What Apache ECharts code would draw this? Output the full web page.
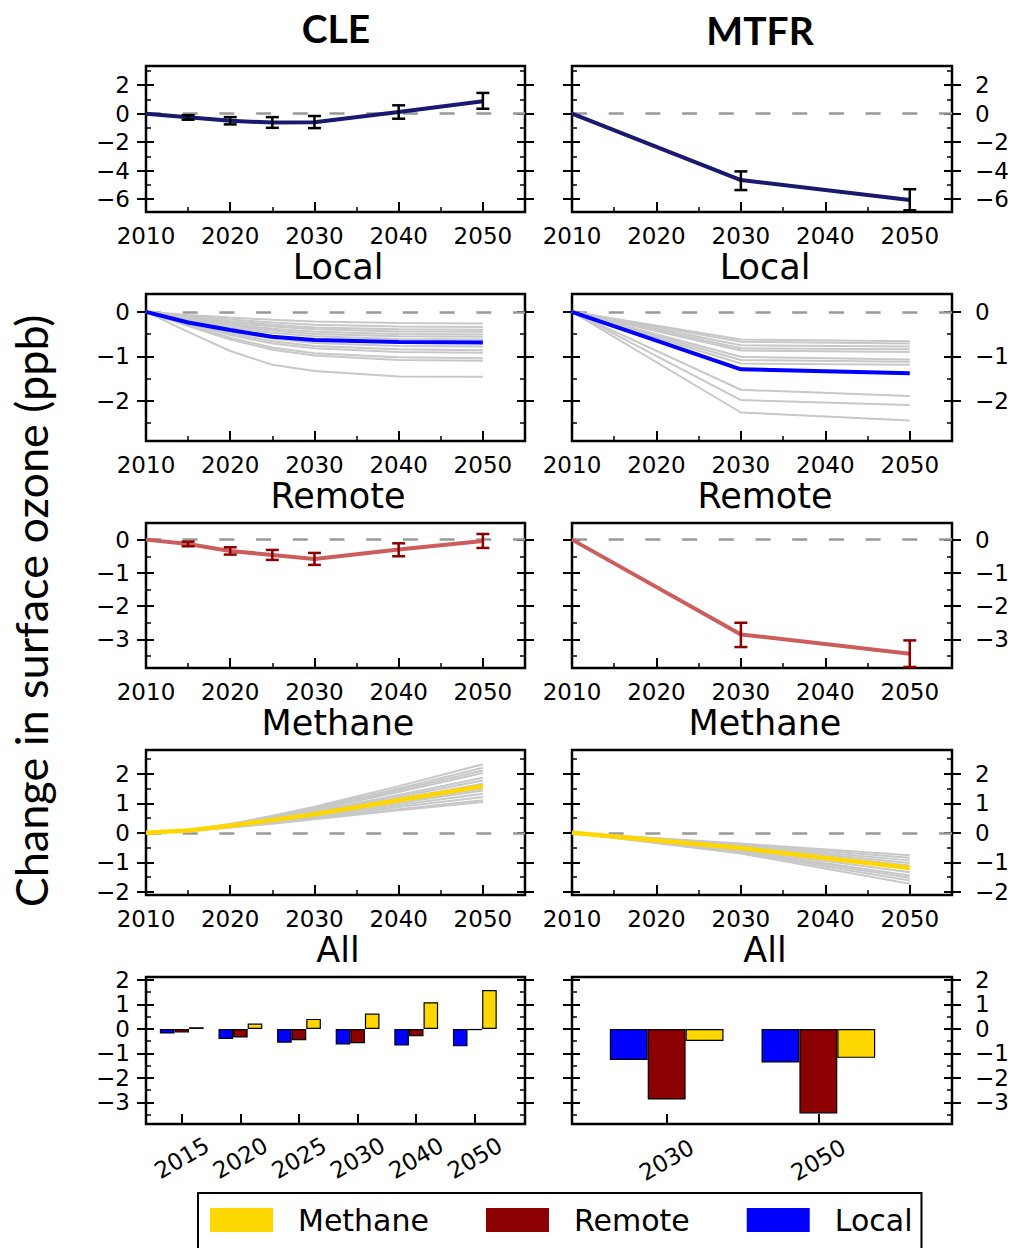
<!DOCTYPE html>
<html><head><meta charset="utf-8">
<script src="https://cdn.jsdelivr.net/npm/echarts@6/dist/echarts.min.js"></script>
<style>html,body{margin:0;padding:0;background:#fff}#c{width:1015px;height:1248px}</style>
</head><body><div id="c"></div>
<script>
// ---------------- DATA ----------------
const YEARS_CLE = [2010, 2015, 2020, 2025, 2030, 2040, 2050];
const YEARS_MTFR = [2010, 2030, 2050];
const X_TICK_LABELS = [2010, 2020, 2030, 2040, 2050];
const X_MINOR_TICKS = [2015, 2025, 2035, 2045];

// Row 1: total
const CLE_TOTAL = [0, -0.25, -0.5, -0.62, -0.6, 0.12, 0.88];
const CLE_TOTAL_LOW = [null, -0.42, -0.75, -0.99, -1.01, -0.35, 0.35];
const CLE_TOTAL_HIGH = [null, -0.1, -0.24, -0.24, -0.16, 0.59, 1.46];
const MTFR_TOTAL = [0, -4.66, -6.05];
const MTFR_TOTAL_LOW = [null, -5.36, -6.78];
const MTFR_TOTAL_HIGH = [null, -4.05, -5.3];

// Row 2: local
const CLE_LOCAL = [0, -0.24, -0.41, -0.56, -0.63, -0.68, -0.69];
const CLE_LOCAL_MEMBERS = [
  [0, -0.07, -0.13, -0.18, -0.22, -0.25, -0.26],
  [0, -0.09, -0.17, -0.24, -0.29, -0.33, -0.34],
  [0, -0.11, -0.21, -0.29, -0.35, -0.39, -0.40],
  [0, -0.13, -0.24, -0.33, -0.39, -0.44, -0.45],
  [0, -0.15, -0.28, -0.38, -0.45, -0.50, -0.51],
  [0, -0.17, -0.31, -0.42, -0.50, -0.55, -0.56],
  [0, -0.19, -0.35, -0.47, -0.55, -0.61, -0.62],
  [0, -0.23, -0.44, -0.60, -0.70, -0.77, -0.78],
  [0, -0.25, -0.48, -0.66, -0.77, -0.84, -0.86],
  [0, -0.27, -0.52, -0.71, -0.82, -0.90, -0.92],
  [0, -0.30, -0.58, -0.80, -0.93, -1.02, -1.04],
  [0, -0.32, -0.62, -0.85, -0.98, -1.08, -1.10],
  [0, -0.45, -0.88, -1.19, -1.33, -1.45, -1.46]
];
const MTFR_LOCAL = [0, -1.29, -1.38];
const MTFR_LOCAL_MEMBERS = [
  [0, -0.62, -0.66], [0, -0.67, -0.71], [0, -0.75, -0.78], [0, -0.82, -0.84],
  [0, -0.87, -0.90], [0, -1.01, -1.07], [0, -1.08, -1.12], [0, -1.16, -1.19],
  [0, -1.75, -1.89], [0, -1.98, -2.09], [0, -2.26, -2.44]
];

// Row 3: remote
const CLE_REMOTE = [0, -0.13, -0.34, -0.46, -0.58, -0.30, -0.04];
const CLE_REMOTE_LOW = [null, -0.2, -0.45, -0.61, -0.76, -0.5, -0.25];
const CLE_REMOTE_HIGH = [null, -0.06, -0.23, -0.31, -0.40, -0.11, 0.17];
const MTFR_REMOTE = [0, -2.85, -3.43];
const MTFR_REMOTE_LOW = [null, -3.23, -3.83];
const MTFR_REMOTE_HIGH = [null, -2.5, -3.03];

// Row 4: methane
const CLE_METHANE = [0, 0.08, 0.24, 0.43, 0.63, 1.10, 1.58];
const CLE_METHANE_MEMBERS = [
  [0, 0.09, 0.30, 0.58, 0.88, 1.58, 2.32],
  [0, 0.09, 0.29, 0.55, 0.84, 1.50, 2.20],
  [0, 0.09, 0.28, 0.53, 0.80, 1.44, 2.11],
  [0, 0.08, 0.27, 0.51, 0.77, 1.38, 2.02],
  [0, 0.08, 0.26, 0.48, 0.72, 1.28, 1.86],
  [0, 0.08, 0.25, 0.46, 0.69, 1.22, 1.77],
  [0, 0.08, 0.24, 0.44, 0.66, 1.15, 1.66],
  [0, 0.07, 0.23, 0.41, 0.61, 1.06, 1.50],
  [0, 0.07, 0.22, 0.40, 0.58, 1.01, 1.43],
  [0, 0.07, 0.21, 0.38, 0.55, 0.94, 1.32],
  [0, 0.06, 0.20, 0.35, 0.51, 0.87, 1.21],
  [0, 0.06, 0.19, 0.33, 0.48, 0.80, 1.10],
  [0, 0.06, 0.18, 0.31, 0.46, 0.76, 1.04]
];
const MTFR_METHANE = [0, -0.51, -1.19];
const MTFR_METHANE_MEMBERS = [
  [0, -0.36, -0.76], [0, -0.39, -0.84], [0, -0.42, -0.93], [0, -0.45, -1.02],
  [0, -0.48, -1.10], [0, -0.57, -1.33], [0, -0.61, -1.44], [0, -0.63, -1.52],
  [0, -0.66, -1.61], [0, -0.70, -1.72]
];

// Row 5: all (bars)
const BAR_CLE_YEARS = ['2015', '2020', '2025', '2030', '2040', '2050'];
const BAR_CLE_LOCAL = [-0.19, -0.41, -0.56, -0.63, -0.68, -0.71];
const BAR_CLE_REMOTE = [-0.15, -0.35, -0.46, -0.58, -0.30, -0.05];
const BAR_CLE_METHANE = [0.07, 0.22, 0.41, 0.63, 1.09, 1.59];
const BAR_MTFR_YEARS = ['2030', '2050'];
const BAR_MTFR_LOCAL = [-1.27, -1.37];
const BAR_MTFR_REMOTE = [-2.88, -3.45];
const BAR_MTFR_METHANE = [-0.49, -1.18];

// y axis ranges / tick labels per row
const Y_RANGES = [[-6.9, 3.35], [-2.9, 0.4], [-3.86, 0.5], [-2.1, 2.8], [-3.88, 2.12]];
const Y_MAJOR = [[-6, -4, -2, 0, 2], [-2, -1, 0], [-3, -2, -1, 0], [-2, -1, 0, 1, 2], [-3, -2, -1, 0, 1, 2]];
const Y_MINOR = [[-5, -3, -1, 1, 3], [-2.5, -1.5, -0.5], [-3.5, -2.5, -1.5, -0.5], [-1.5, -0.5, 0.5, 1.5, 2.5], [-3.5, -2.5, -1.5, -0.5, 0.5, 1.5]];

const COLUMN_TITLES = ['CLE', 'MTFR'];
const ROW_TITLES = ['Local', 'Remote', 'Methane', 'All'];
const Y_LABEL = 'Change in surface ozone (ppb)';
const LEGEND_NAMES = ['Methane', 'Remote', 'Local'];

// ---------------- STYLE / LAYOUT ----------------
const C_NAVY = '#191970', C_BLUE = '#0000ff', C_RED = '#cd5c5c', C_DARKRED = '#8b0000', C_GOLD = '#ffd700', C_GRAY = '#c8c8c8';
const COL_LEFT = [146, 572], COL_W = [379, 380];
const ROW_TOP = [66, 294, 523, 750, 977], ROW_H = [146, 147, 145, 145, 147];
const FONT = 'DejaVu Sans';

function fmtNum(v) { return v < 0 ? '\u2212' + Math.abs(v) : String(v); }

const grids = [], xAxes = [], yAxes = [], series = [];
const tickLine = { color: '#000', width: 2 };

function addGrid(row, col, xCfg) {
  const gi = grids.length;
  grids.push({ left: COL_LEFT[col], top: ROW_TOP[row], width: COL_W[col], height: ROW_H[row],
    show: true, borderColor: '#000', borderWidth: 2.5, backgroundColor: 'transparent',
    containLabel: false, outerBoundsMode: 'none' });
  const xi = xAxes.length;
  xAxes.push({ gridIndex: gi, type: 'value', position: 'bottom', min: xCfg.min, max: xCfg.max,
    axisLine: { show: false, onZero: false }, splitLine: { show: false },
    axisTick: { show: true, inside: true, length: 10, customValues: xCfg.major, lineStyle: tickLine },
    axisLabel: { show: true, customValues: xCfg.major, formatter: xCfg.fmt, fontSize: 23, fontFamily: FONT,
      color: '#000', margin: xCfg.margin, lineHeight: 23, rotate: xCfg.rotate || 0, align: xCfg.align, verticalAlign: xCfg.valign } });
  if (xCfg.minor) {
    xAxes.push({ gridIndex: gi, type: 'value', position: 'bottom', min: xCfg.min, max: xCfg.max,
      axisLine: { show: false, onZero: false }, splitLine: { show: false },
      axisTick: { show: true, inside: true, length: 5, customValues: xCfg.minor, lineStyle: { color: '#000', width: 1.5 } },
      axisLabel: { show: false } });
  }
  const yi = yAxes.length;
  const yr = Y_RANGES[row];
  ['left', 'right'].forEach(side => {
    const labeled = (side === 'left' && col === 0) || (side === 'right' && col === 1);
    const base = { gridIndex: gi, type: 'value', position: side, min: yr[0], max: yr[1],
      axisLine: { show: false, onZero: false }, splitLine: { show: false } };
    yAxes.push(Object.assign({}, base, {
      axisTick: { show: true, inside: false, length: 9, customValues: Y_MAJOR[row], lineStyle: tickLine },
      axisLabel: { show: labeled, customValues: Y_MAJOR[row], formatter: fmtNum, fontSize: 23, fontFamily: FONT,
        color: '#000', margin: side === 'left' ? 16 : 23 } }));
    yAxes.push(Object.assign({}, base, {
      axisTick: { show: true, inside: true, length: 8, customValues: Y_MAJOR[row], lineStyle: tickLine },
      axisLabel: { show: false } }));
    yAxes.push(Object.assign({}, base, {
      axisTick: { show: true, inside: true, length: 5, customValues: Y_MINOR[row], lineStyle: { color: '#000', width: 1.5 } },
      axisLabel: { show: false } }));
  });
  return { xi, yi };
}

const lineX = { min: 2010, max: 2055, major: X_TICK_LABELS, minor: X_MINOR_TICKS, fmt: v => String(v), margin: 12 };

function zeroMark() {
  return { silent: true, symbol: ['none', 'none'], z: 1, label: { show: false },
    lineStyle: { color: '#999999', width: 2.5, type: [15, 21.7] }, data: [{ yAxis: 0 }] };
}
function addLine(ax, years, vals, color, width, z, mark) {
  const s = { type: 'line', xAxisIndex: ax.xi, yAxisIndex: ax.yi, data: years.map((y, i) => [y, vals[i]]),
    symbol: 'none', lineStyle: { color: color, width: width }, itemStyle: { color: color }, z: z, silent: true };
  if (mark) s.markLine = zeroMark();
  series.push(s);
}
function addErr(ax, years, lo, hi, color) {
  const data = [];
  years.forEach((y, i) => { if (lo[i] !== null) data.push([y, lo[i], hi[i]]); });
  series.push({ type: 'custom', xAxisIndex: ax.xi, yAxisIndex: ax.yi, z: 5, silent: true,
    encode: { x: 0, y: [1, 2] }, data: data,
    renderItem: function (params, api) {
      const x = api.value(0);
      const a = api.coord([x, api.value(1)]), b = api.coord([x, api.value(2)]);
      const hw = 6.5, st = { stroke: color, lineWidth: 2.5 };
      return { type: 'group', children: [
        { type: 'line', shape: { x1: a[0], y1: a[1], x2: b[0], y2: b[1] }, style: st },
        { type: 'line', shape: { x1: a[0] - hw, y1: a[1], x2: a[0] + hw, y2: a[1] }, style: st },
        { type: 'line', shape: { x1: b[0] - hw, y1: b[1], x2: b[0] + hw, y2: b[1] }, style: st }
      ] };
    } });
}

// Row 1
let ax = addGrid(0, 0, lineX);
addLine(ax, YEARS_CLE, CLE_TOTAL, C_NAVY, 4, 3, true);
addErr(ax, YEARS_CLE, CLE_TOTAL_LOW, CLE_TOTAL_HIGH, '#000');
ax = addGrid(0, 1, lineX);
addLine(ax, YEARS_MTFR, MTFR_TOTAL, C_NAVY, 4, 3, true);
addErr(ax, YEARS_MTFR, MTFR_TOTAL_LOW, MTFR_TOTAL_HIGH, '#000');
// Row 2
ax = addGrid(1, 0, lineX);
CLE_LOCAL_MEMBERS.forEach((m, k) => addLine(ax, YEARS_CLE, m, C_GRAY, 2, 2, k === 0));
addLine(ax, YEARS_CLE, CLE_LOCAL, C_BLUE, 4, 3, false);
ax = addGrid(1, 1, lineX);
MTFR_LOCAL_MEMBERS.forEach((m, k) => addLine(ax, YEARS_MTFR, m, C_GRAY, 2, 2, k === 0));
addLine(ax, YEARS_MTFR, MTFR_LOCAL, C_BLUE, 4, 3, false);
// Row 3
ax = addGrid(2, 0, lineX);
addLine(ax, YEARS_CLE, CLE_REMOTE, C_RED, 4, 3, true);
addErr(ax, YEARS_CLE, CLE_REMOTE_LOW, CLE_REMOTE_HIGH, C_DARKRED);
ax = addGrid(2, 1, lineX);
addLine(ax, YEARS_MTFR, MTFR_REMOTE, C_RED, 4, 3, true);
addErr(ax, YEARS_MTFR, MTFR_REMOTE_LOW, MTFR_REMOTE_HIGH, C_DARKRED);
// Row 4
ax = addGrid(3, 0, lineX);
CLE_METHANE_MEMBERS.forEach((m, k) => addLine(ax, YEARS_CLE, m, C_GRAY, 2, 2, k === 0));
addLine(ax, YEARS_CLE, CLE_METHANE, C_GOLD, 4.5, 3, false);
ax = addGrid(3, 1, lineX);
MTFR_METHANE_MEMBERS.forEach((m, k) => addLine(ax, YEARS_MTFR, m, C_GRAY, 2, 2, k === 0));
addLine(ax, YEARS_MTFR, MTFR_METHANE, C_GOLD, 4.5, 3, false);
// Row 5 bars
function addBars(col, cats, loc, rem, met, xmin, xmax, bw, margin) {
  const idx = cats.map((_, i) => i);
  const a = addGrid(4, col, { min: xmin, max: xmax, major: idx, fmt: v => cats[Math.round(v)],
    margin: margin, rotate: 30, align: 'center', valign: 'middle' });
  [['Local', loc, C_BLUE], ['Remote', rem, C_DARKRED], ['Methane', met, C_GOLD]].forEach(d => {
    series.push({ type: 'bar', name: d[0], xAxisIndex: a.xi, yAxisIndex: a.yi,
      data: d[1].map((v, i) => [i, v]), barWidth: bw, barGap: '0%', silent: true,
      itemStyle: { color: d[2], borderColor: '#000', borderWidth: 1.2 } });
  });
}
addBars(0, BAR_CLE_YEARS, BAR_CLE_LOCAL, BAR_CLE_REMOTE, BAR_CLE_METHANE, -0.61, 5.856, 14.6, 34);
addBars(1, BAR_MTFR_YEARS, BAR_MTFR_LOCAL, BAR_MTFR_REMOTE, BAR_MTFR_METHANE, -0.624, 1.881, 37.9, 36);

// Titles
const graphic = [];
function txt(x, y, text, size, family, weight, rot, lh) {
  graphic.push({ type: 'text', x: x, y: y, rotation: rot || 0, silent: true,
    style: { text: text, fill: '#000', fontSize: size, fontFamily: family, fontWeight: weight || 'normal',
      lineHeight: lh || size, align: 'center', verticalAlign: 'middle', textAlign: 'center', textVerticalAlign: 'middle' } });
}
txt(336, 28, COLUMN_TITLES[0], 39, 'Lato', 'bold');
txt(760, 30, COLUMN_TITLES[1], 39, 'Lato', 'bold');
ROW_TITLES.forEach((t, r) => {
  const y = ROW_TOP[r + 1] - 27;
  txt(338, y, t, 35, FONT, 'normal', 0, 30);
  txt(765, y, t, 35, FONT, 'normal', 0, 30);
});
txt(31, 611, Y_LABEL, 45, 'Lato', 'normal', Math.PI / 2);

const chart = echarts.init(document.getElementById('c'), null, { renderer: 'svg', width: 1015, height: 1248 });
chart.setOption({
  animation: false,
  backgroundColor: '#fff',
  grid: grids, xAxis: xAxes, yAxis: yAxes, series: series, graphic: graphic,
  legend: { data: LEGEND_NAMES, left: 198, top: 1193, orient: 'horizontal', selectedMode: false,
    itemWidth: 63, itemHeight: 24, itemGap: 57, icon: 'rect',
    itemStyle: { borderWidth: 0 },
    padding: [12, 9, 60, 12], borderColor: '#000', borderWidth: 2, backgroundColor: '#fff',
    textStyle: { fontSize: 30, fontFamily: FONT, color: '#000', lineHeight: 30, padding: [0, 0, 0, 20] } }
});
</script></body></html>
